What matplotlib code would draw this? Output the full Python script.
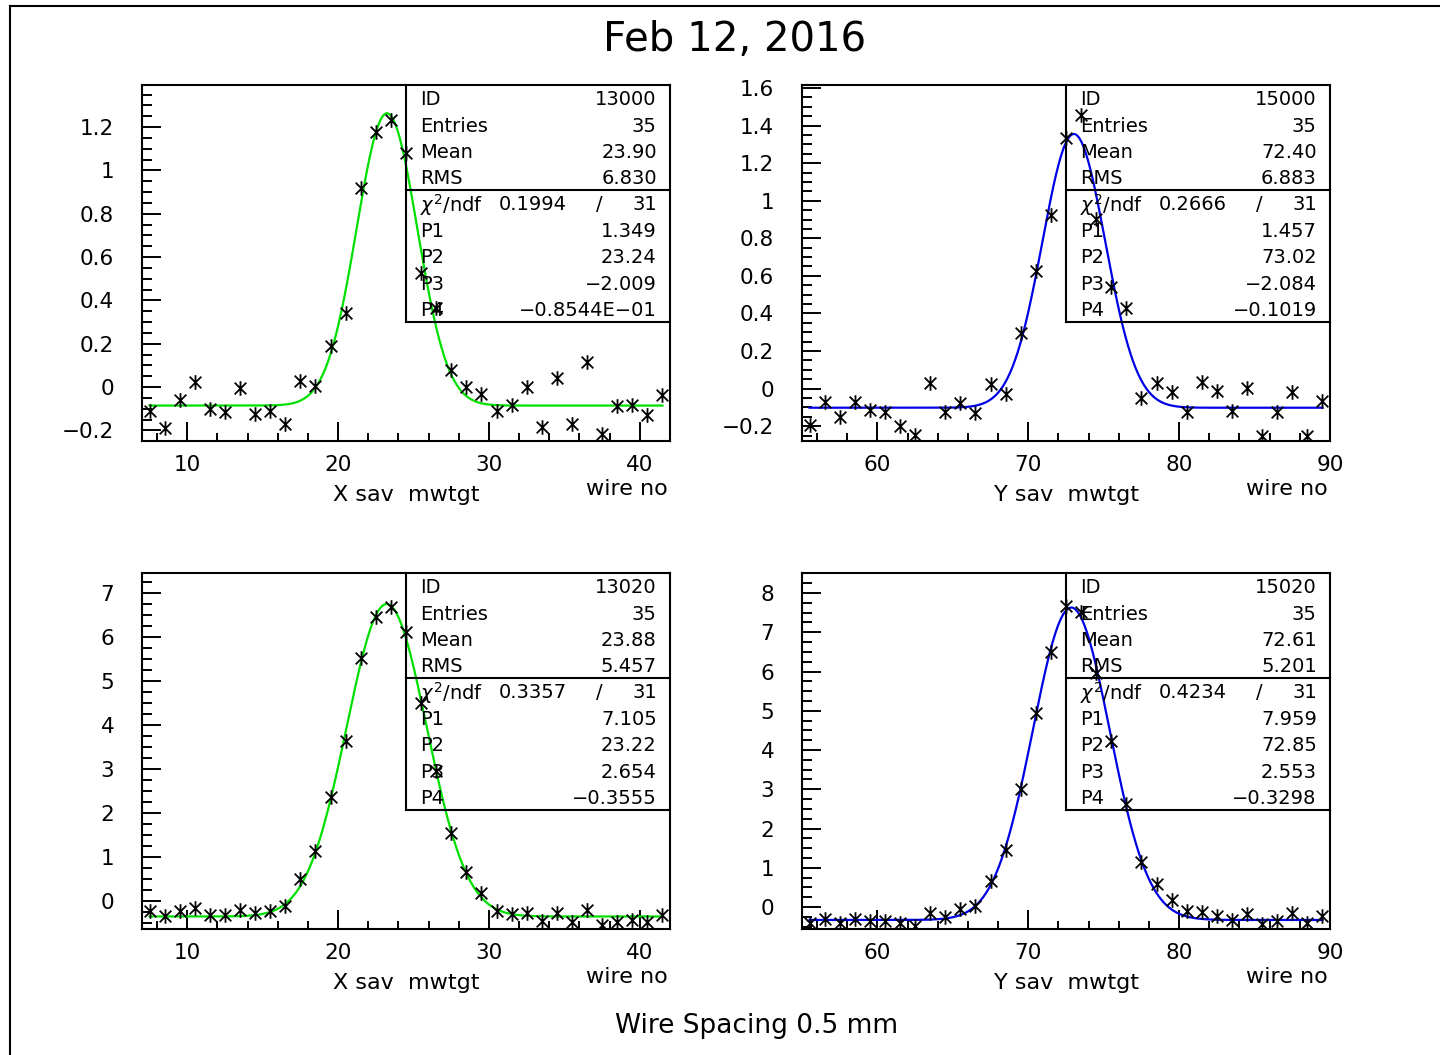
import numpy as np
import matplotlib
matplotlib.use("Agg")
import matplotlib.pyplot as plt
from matplotlib.path import Path
from matplotlib.lines import Line2D
from matplotlib.ticker import MultipleLocator, FuncFormatter

plt.rcParams['font.family'] = ['DejaVu Sans']

# Данные (каналы 7.5..41.5 и 55.5..89.5)
x_wires = np.arange(7.5, 42.0, 1.0)
y_wires = np.arange(55.5, 90.0, 1.0)

x_sav_13000 = [-0.111, -0.191, -0.060, 0.025, -0.102, -0.114, -0.006, -0.126, -0.111, -0.172,
               0.029, 0.005, 0.191, 0.340, 0.917, 1.178, 1.232, 1.081, 0.525, 0.363,
               0.078, 0.001, -0.034, -0.111, -0.083, -0.002, -0.183, 0.043, -0.172, 0.117,
               -0.218, -0.088, -0.083, -0.129, -0.037]
y_sav_15000 = [-0.194, -0.070, -0.150, -0.074, -0.114, -0.123, -0.200, -0.248, 0.031, -0.123,
               -0.079, -0.132, 0.024, -0.031, 0.294, 0.627, 0.924, 1.332, 1.456, 0.901,
               0.542, 0.427, -0.052, 0.031, -0.020, -0.127, 0.036, -0.013, -0.118, 0.004,
               -0.253, -0.127, -0.020, -0.253, -0.067]
x_sav_13020 = [-0.242, -0.341, -0.227, -0.152, -0.318, -0.318, -0.205, -0.265, -0.242, -0.106,
               0.492, 1.136, 2.356, 3.644, 5.515, 6.462, 6.674, 6.106, 4.508, 2.955,
               1.538, 0.667, 0.189, -0.242, -0.303, -0.280, -0.455, -0.265, -0.485, -0.205,
               -0.545, -0.470, -0.432, -0.470, -0.318]
y_sav_15020 = [-0.416, -0.314, -0.416, -0.314, -0.357, -0.357, -0.416, -0.484, -0.144, -0.246,
               -0.059, 0.025, 0.671, 1.452, 2.998, 4.951, 6.505, 7.669, 7.524, 5.953,
               4.238, 2.624, 1.138, 0.577, 0.178, -0.102, -0.119, -0.229, -0.331, -0.187,
               -0.442, -0.357, -0.161, -0.416, -0.229]

# Параметры фита P1..P4 (из статбокса)
fit_13000 = [1.349, 23.24, -2.009, -0.08544]
fit_15000 = [1.457, 73.02, -2.084, -0.1019]
fit_13020 = [7.105, 23.22, 2.654, -0.3555]
fit_15020 = [7.959, 72.85, 2.553, -0.3298]

stats_13000 = ['13000', '35', '23.90', '6.830', '0.1994', '31', '1.349', '23.24', '\u22122.009', '\u22120.8544E\u221201']
stats_15000 = ['15000', '35', '72.40', '6.883', '0.2666', '31', '1.457', '73.02', '\u22122.084', '\u22120.1019']
stats_13020 = ['13020', '35', '23.88', '5.457', '0.3357', '31', '7.105', '23.22', '2.654', '\u22120.3555']
stats_15020 = ['15020', '35', '72.61', '5.201', '0.4234', '31', '7.959', '72.85', '2.553', '\u22120.3298']

# маркер-звездочка как в PAW
star = Path([(0, -1), (0, 1), (-0.8, -0.8), (0.8, 0.8), (-0.8, 0.8), (0.8, -0.8)],
            [Path.MOVETO, Path.LINETO, Path.MOVETO, Path.LINETO, Path.MOVETO, Path.LINETO])


def fmt(v, pos):
    s = f'{round(v, 6):g}'
    if s == '-0':
        s = '0'
    return s.replace('-', '\u2212')


def panel(rect, xs, ys, fit, stats, color, xlim, ylim, ymaj, ymin, xlabel):
    ax = fig.add_axes(rect)
    ax.plot(xs, ys, linestyle='none', marker=star, markersize=10.5, markeredgewidth=1.3,
            color='black', zorder=4)
    p1, p2, p3, p4 = fit
    xf = np.linspace(xs[0], xs[-1], 600)
    ax.plot(xf, p1 * np.exp(-0.5 * ((xf - p2) / p3) ** 2) + p4, color=color, lw=1.6, zorder=3)
    ax.set_xlim(*xlim)
    ax.set_ylim(*ylim)
    ax.xaxis.set_major_locator(MultipleLocator(10))
    ax.xaxis.set_minor_locator(MultipleLocator(2))
    ax.yaxis.set_major_locator(MultipleLocator(ymaj))
    ax.yaxis.set_minor_locator(MultipleLocator(ymin))
    ax.yaxis.set_major_formatter(FuncFormatter(fmt))
    ax.xaxis.set_major_formatter(FuncFormatter(fmt))
    ax.tick_params(which='both', direction='in', width=1.4, labelsize=15.5, top=False, right=False)
    ax.tick_params(axis='y', which='major', length=14, pad=20)
    ax.tick_params(axis='y', which='minor', length=7)
    ax.tick_params(axis='x', which='major', length=14, pad=10)
    ax.tick_params(axis='x', which='minor', length=6)
    for sp in ax.spines.values():
        sp.set_linewidth(1.5)
    ax.text(0.5, -0.152, xlabel, transform=ax.transAxes, ha='center', va='center', fontsize=16)
    ax.text(0.995, -0.135, 'wire no', transform=ax.transAxes, ha='right', va='center', fontsize=16)

    # статбокс
    kw = dict(transform=ax.transAxes, color='black', lw=1.5, zorder=5, clip_on=False)
    ax.add_line(Line2D([0.5, 0.5], [1.0, 0.3343], **kw))
    ax.add_line(Line2D([0.5, 1.0], [0.3343, 0.3343], **kw))
    ax.add_line(Line2D([0.5, 1.0], [0.705, 0.705], **kw))
    rows_y = [0.958, 0.883, 0.810, 0.737, 0.664, 0.588, 0.515, 0.439, 0.366]
    names = ['ID', 'Entries', 'Mean', 'RMS', r'$\chi^{2}$/ndf', 'P1', 'P2', 'P3', 'P4']
    tk = dict(transform=ax.transAxes, va='center', fontsize=14, zorder=6)
    for name, yy in zip(names, rows_y):
        ax.text(0.527, yy, name, ha='left', **tk)
    vals = stats[:4] + stats[6:]
    for i, yy in enumerate(rows_y):
        if i < 4:
            ax.text(0.975, yy, vals[i], ha='right', **tk)
        elif i == 4:
            ax.text(0.805, yy, stats[4], ha='right', **tk)
            ax.text(0.867, yy, '/', ha='center', **tk)
            ax.text(0.975, yy, stats[5], ha='right', **tk)
        else:
            ax.text(0.975, yy, vals[i - 1], ha='right', **tk)
    return ax


fig = plt.figure(figsize=(14.4, 10.55), dpi=100)

w, h = 528 / 1440, 356 / 1055
panel([142 / 1440, 1 - 441 / 1055, w, h], x_wires, x_sav_13000, fit_13000, stats_13000, '#00e000',
      (7, 42), (-0.249, 1.394), 0.2, 0.05, 'X sav  mwtgt')
panel([802 / 1440, 1 - 441 / 1055, w, h], y_wires, y_sav_15000, fit_15000, stats_15000, '#0000e6',
      (55, 90), (-0.279, 1.616), 0.2, 0.05, 'Y sav  mwtgt')
panel([142 / 1440, 1 - 929 / 1055, w, h], x_wires, x_sav_13020, fit_13020, stats_13020, '#00e000',
      (7, 42), (-0.64, 7.455), 1, 0.25, 'X sav  mwtgt')
panel([802 / 1440, 1 - 929 / 1055, w, h], y_wires, y_sav_15020, fit_15020, stats_15020, '#0000e6',
      (55, 90), (-0.56, 8.51), 1, 0.25, 'Y sav  mwtgt')

fig.text(735 / 1440, 1 - 40 / 1055, 'Feb 12, 2016', ha='center', va='center', fontsize=29)
fig.text(757 / 1440, 1 - 1026 / 1055, 'Wire Spacing 0.5 mm', ha='center', va='center', fontsize=19)

# рамка страницы
fig.add_artist(Line2D([10 / 1440, 10 / 1440], [0, 1 - 6 / 1055], color='black', lw=1.5))
fig.add_artist(Line2D([10 / 1440, 1], [1 - 6 / 1055, 1 - 6 / 1055], color='black', lw=1.5))

fig.savefig('out.png', dpi=100)
